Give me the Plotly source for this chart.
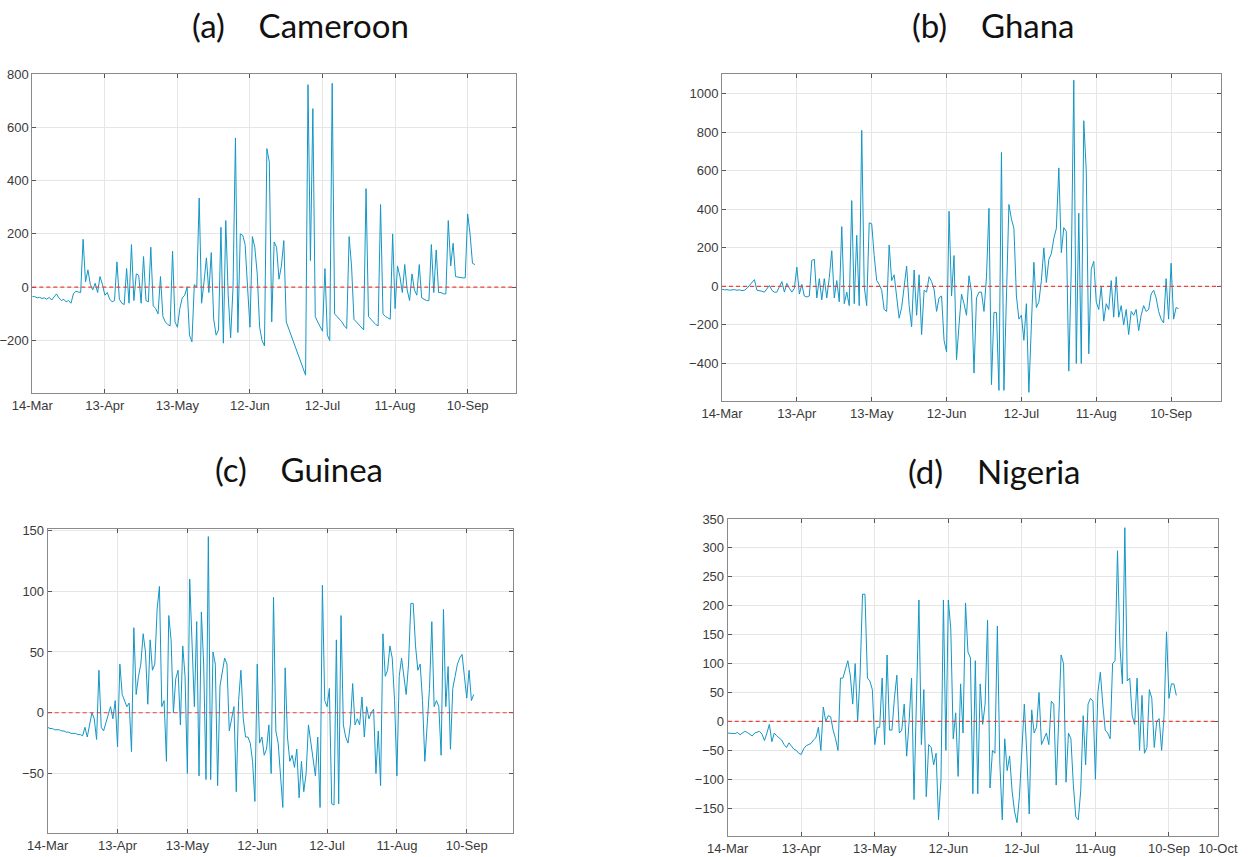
import plotly.graph_objects as go
import pandas as pd

start_date = "2020-03-14"
n_days = 184

cameroon = [
    -35, -35, -40, -38, -42, -40, -45, -38, -48, -35, -25, -40, -50, -45, -55, -50, -60, -25, -15, -18,
    -20, 180, 20, 65, 10, -10, 15, -20, 40, 10, -30, -20, -45, -55, -50, 95, -45, -60, -65, 70,
    -60, 160, -50, 50, 45, -60, 115, -50, -55, 150, -70, -80, -100, 40, -110, -130, -140, -145, 135, -130,
    -150, -80, -40, -30, 0, -180, -205, 10, 0, 335, -60, 20, 110, -20, 130, -120, -180, -160, 225, -210,
    250, -30, -190, 0, 560, -170, 200, 195, 160, 0, -150, 190, 150, 50, -150, -200, -220, 520, 470, -130,
    170, 150, 30, 80, 175, -130, -155, -180, -205, -230, -255, -280, -305, -330, 760, 100, 670, -110, -130, -150,
    -165, 70, -180, -200, 765, -100, -110, -120, -130, -145, -155, 190, 80, -120, -130, -140, -150, -160, 370, -110,
    -120, -130, -140, -145, 310, -100, -110, -115, -120, 200, -80, 80, 40, -20, 85, -10, -50, 50, -10, -30,
    85, -40, -45, -50, -50, 160, -20, 140, -20, -20, -25, -25, 250, 80, 165, 40, 38, 36, 35, 35,
    275, 200, 90, 85,
]

ghana = [
    -15, -18, -17, -20, -18, -17, -20, -18, -22, -20, -10, 5, 15, 35, -20, -22, -25, -30, -10, 5,
    -20, -30, -30, -5, 25, -30, 15, -10, -30, -10, 100, -40, 10, -50, -55, -50, 135, 140, -60, 40,
    -70, 40, -60, 45, 185, -60, 30, -80, 310, -90, -30, -100, 445, -90, 265, -100, 810, 0, -100, 330,
    325, 160, 30, 10, -20, -120, -130, 215, 30, 60, -50, -165, -110, 0, 105, -100, -210, 85, -150, 60,
    -250, -20, -30, 50, 25, -15, -130, -60, -50, -280, -340, 390, -50, 160, -380, -200, -40, -90, -150, 55,
    -30, -450, -60, -30, -30, -130, 50, 405, -510, -135, -135, -540, 695, -540, -100, 425, 350, 300, -50, -170,
    -150, -280, -90, -550, -200, 125, -110, -80, 30, 200, 20, 140, 170, 250, 300, 615, 175, 305, 285, -440,
    100, 1070, -400, 380, -400, 860, 600, -350, 90, 130, -80, -120, 0, -180, -90, -120, 30, -160, 50, -160,
    -100, -200, -120, -250, -130, -150, -120, -230, -150, -100, -130, -120, -40, -20, -60, -130, -170, -190, 40, -170,
    120, -170, -110, -115,
]

guinea = [
    -12, -13, -13, -14, -14, -14, -15, -15, -16, -16, -17, -17, -17, -18, -18, -19, -12, -20, -10, 0,
    -5, -22, 35, -12, -15, -8, 0, 5, -5, 10, -28, 40, 15, 10, 5, 8, -32, 70, 15, 30,
    40, 65, 50, 7, 60, 35, 40, 85, 104, 5, 10, -40, 80, 60, 0, 28, 35, -10, 55, 30,
    -50, 110, 50, 5, 75, -52, 83, 40, -55, 145, -55, 50, 40, -60, 22, 32, 45, 40, -15, -5,
    5, -65, 10, 35, -5, -20, -20, -25, -40, -73, 40, -25, -20, -35, -30, -10, -50, 95, -15, -25,
    -55, -78, 37, -20, -40, -35, -45, -30, -70, -40, -65, -50, -10, -25, -40, -52, -20, -78, 105, 10,
    5, 20, -75, -76, 60, -75, 80, -10, -20, -25, -10, 24, -10, -5, -10, 13, -20, 5, -5, 0,
    3, -50, -15, -60, 65, 30, 35, 55, 45, 10, -52, 30, 45, 30, 15, 40, 90, 90, 55, 35,
    40, 10, -40, -10, 20, 75, 5, 10, 5, -35, 85, 5, 38, -30, 20, 30, 40, 45, 48, 30,
    12, 35, 10, 15,
]

nigeria = [
    -20, -20, -21, -21, -19, -23, -20, -17, -19, -22, -25, -20, -18, -17, -22, -33, -20, -5, -35, -20,
    -25, -28, -32, -40, -45, -37, -42, -48, -50, -55, -57, -47, -42, -40, -38, -32, -28, -10, -50, 25,
    0, 10, 8, -15, -30, -50, 75, 75, 88, 105, 80, 30, 100, 0, 80, 220, 220, 75, 70, 55,
    -40, -10, -10, 75, -40, 115, -15, -15, 40, 80, -20, -15, 30, -60, 0, 75, -135, 30, 210, -40,
    55, -130, -40, -45, -75, -55, -170, -100, 210, -50, 210, 160, -30, 15, -95, 65, -20, 205, 120, 110,
    -125, 105, -125, 65, -5, 30, 175, -115, -50, -55, 165, -70, -170, -30, -85, -60, -120, -155, -175, -130,
    -50, 30, -55, -160, 20, -20, -10, 50, -40, -30, -20, -40, 35, 30, -110, 0, 115, 100, -105, -20,
    -30, -110, -165, -170, -120, 10, -75, 30, 40, 35, -100, 50, 85, 30, -15, -20, -30, 100, 105, 295,
    130, 65, 335, 70, 75, 10, -5, 75, -50, 45, -55, -45, 55, 40, -45, 0, 5, -50, 10, 155,
    40, 65, 65, 45,
]

tick_dates = ["2020-03-14", "2020-04-13", "2020-05-13", "2020-06-12",
              "2020-07-12", "2020-08-11", "2020-09-10"]
tick_labels = ["14-Mar", "13-Apr", "13-May", "12-Jun", "12-Jul", "11-Aug", "10-Sep"]
extra_tick_date = "2020-09-30"
extra_tick_label = "10-Oct"

panel_letters = ["(a)", "(b)", "(c)", "(d)"]
countries = ["Cameroon", "Ghana", "Guinea", "Nigeria"]
series = [cameroon, ghana, guinea, nigeria]
y_ranges = [[-398, 800], [-595, 1105], [-99, 151], [-198, 350]]
y_dticks = [200, 200, 50, 50]

W, H = 1248, 857
# pixel boxes: left, right, top, bottom
boxes = [
    (32.3, 516.0, 74.0, 393.3),
    (722.0, 1221.0, 73.5, 401.0),
    (47.7, 513.3, 529.3, 833.0),
    (727.7, 1218.0, 519.0, 836.0),
]
title_pos = [(300, 25), (994, 25), (299, 469), (994, 471)]

dates = pd.date_range(start_date, periods=n_days, freq="D")

fig = go.Figure()
line_color = "#1496c4"
layout = dict(
    template="none",
    width=W, height=H, autosize=False,
    margin=dict(l=0, r=0, t=0, b=0, pad=0),
    paper_bgcolor="white", plot_bgcolor="white",
    showlegend=False,
    shapes=[], annotations=[],
)

for i in range(4):
    sfx = "" if i == 0 else str(i + 1)
    xa, ya = "x" + sfx, "y" + sfx
    fig.add_trace(go.Scatter(
        x=dates, y=series[i], mode="lines",
        line=dict(color=line_color, width=1),
        xaxis=xa, yaxis=ya, hoverinfo="skip",
    ))
    l, r, t, b = boxes[i]
    tv = list(tick_dates)
    tt = list(tick_labels)
    if i == 3:
        tv.append(extra_tick_date)
        tt.append(extra_tick_label)
    axis_common = dict(
        automargin=False,
        showline=True, linecolor="#8a8a8a", linewidth=1, mirror="allticks",
        ticks="inside", ticklen=4, tickcolor="#555555", tickwidth=1,
        showgrid=True, gridcolor="#e6e6e6", gridwidth=1,
        zeroline=False,
        tickfont=dict(family="Liberation Sans, Arial, sans-serif", size=13, color="#3a3a3a"),
    )
    layout["xaxis" + sfx] = dict(
        axis_common,
        domain=[l / W, r / W],
        anchor=ya,
        type="date",
        range=["2020-03-14", "2020-09-30"],
        tickmode="array", tickvals=tv, ticktext=tt,
    )
    layout["yaxis" + sfx] = dict(
        axis_common,
        domain=[1 - b / H, 1 - t / H],
        anchor=xa,
        range=y_ranges[i],
        tickmode="linear", tick0=0, dtick=y_dticks[i],
    )
    layout["shapes"].append(dict(
        type="line", xref=xa + " domain", yref=ya,
        x0=0, x1=1, y0=0, y1=0,
        line=dict(color="#e8443a", width=1.2, dash="4px,3px"),
        layer="above",
    ))
    tx, ty = title_pos[i]
    layout["annotations"].append(dict(
        text=panel_letters[i] + "\u00a0\u00a0\u00a0\u00a0" + countries[i],
        x=tx / W, y=1 - ty / H, xref="paper", yref="paper",
        xanchor="center", yanchor="middle", showarrow=False,
        font=dict(family="Lato, Open Sans, sans-serif", size=33, color="#111111"),
    ))

fig.update_layout(**layout)
fig.write_html(
    "out.html",
    config={"displayModeBar": False, "staticPlot": True},
    post_script="document.body.style.margin='0';document.body.style.overflow='hidden';",
)
